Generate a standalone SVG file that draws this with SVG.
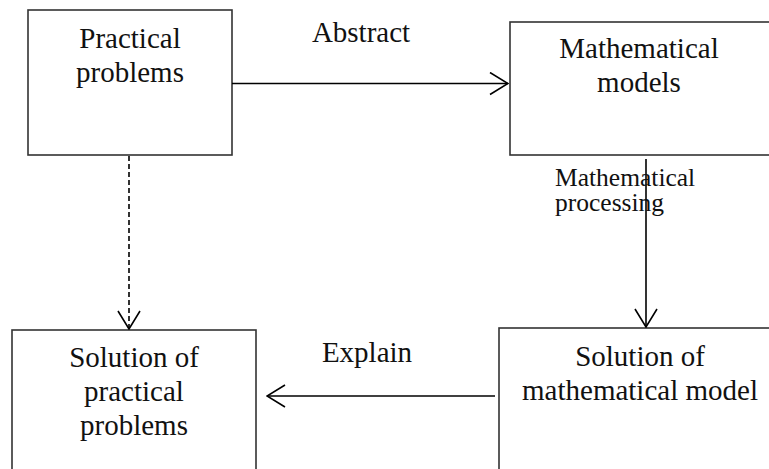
<svg xmlns="http://www.w3.org/2000/svg" width="769" height="469" viewBox="0 0 769 469">
<defs>
<style>
.box{fill:#fff;stroke:#333;stroke-width:1.6}
.t{font-family:"Liberation Serif","Times New Roman",serif;font-size:29px;fill:#111;text-anchor:middle}
.l{font-family:"Liberation Serif","Times New Roman",serif;fill:#111}
.c{fill:none;stroke:#000;stroke-width:1.6}
</style>
<marker id="ah" viewBox="0 0 20 24" refX="19" refY="12" markerWidth="20" markerHeight="24" markerUnits="userSpaceOnUse" orient="auto">
<path d="M1,1 L19,12 L1,23" fill="none" stroke="#000" stroke-width="1.6"/>
</marker>
</defs>
<rect width="769" height="469" fill="#fff"/>
<g id="practical-problems">
<rect class="box" x="28" y="10" width="204" height="145"/>
<text class="t" x="130" y="48">Practical</text>
<text class="t" x="130" y="82">problems</text>
</g>
<g id="mathematical-models">
<rect class="box" x="510" y="22" width="270" height="133"/>
<text class="t" x="639" y="58">Mathematical</text>
<text class="t" x="639" y="92">models</text>
</g>
<g id="solution-practical">
<rect class="box" x="12" y="330" width="244" height="150"/>
<text class="t" x="134" y="367">Solution of</text>
<text class="t" x="134" y="401">practical</text>
<text class="t" x="134" y="435">problems</text>
</g>
<g id="solution-model">
<rect class="box" x="499" y="328" width="280" height="152"/>
<text class="t" x="640" y="366">Solution of</text>
<text class="t" x="640" y="400">mathematical model</text>
</g>
<g id="connectors">
<line class="c" x1="232" y1="83.5" x2="508" y2="83.5" marker-end="url(#ah)"/>
<line class="c" x1="646" y1="159" x2="646" y2="327" marker-end="url(#ah)"/>
<line class="c" x1="495" y1="396" x2="267" y2="396" marker-end="url(#ah)"/>
<line class="c" x1="129" y1="156" x2="129" y2="329" stroke-dasharray="5,3" marker-end="url(#ah)"/>
</g>
<g id="labels">
<text class="l" x="361" y="42" font-size="29" text-anchor="middle">Abstract</text>
<text class="l" x="555" y="186" font-size="25.5">Mathematical</text>
<text class="l" x="555" y="211" font-size="25.5">processing</text>
<text class="l" x="367" y="362" font-size="29" text-anchor="middle">Explain</text>
</g>
</svg>
